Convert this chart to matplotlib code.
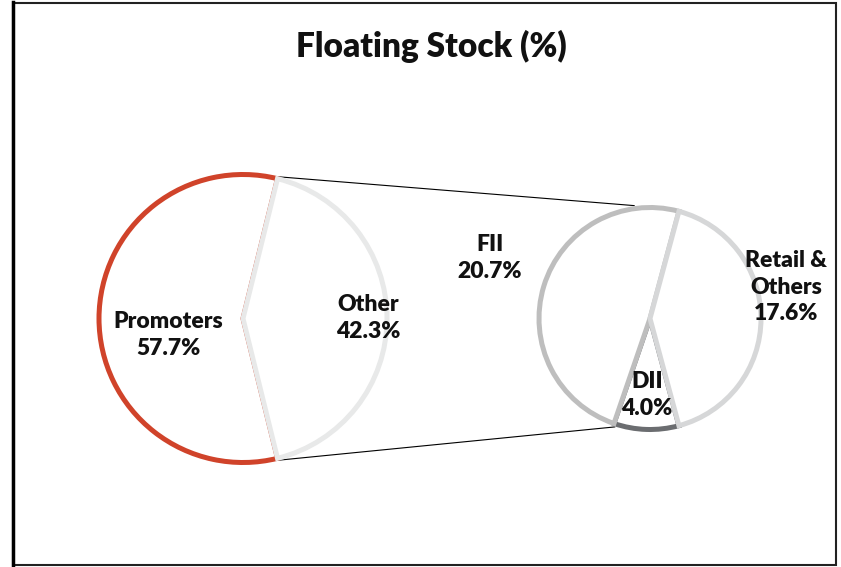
import numpy as np
import matplotlib
matplotlib.use('Agg')
import matplotlib.pyplot as plt
from matplotlib.lines import Line2D
from matplotlib.patches import Rectangle

plt.rcParams['font.family'] = ['Lato', 'DejaVu Sans']

# main pie
main_labels = ['Promoters', 'Other']
main_values = [57.7, 42.3]
main_colors = ['#D0432A', '#E8E9E9']

# secondary pie (split of "Other")
sub_labels = ['FII', 'DII', 'Retail &\nOthers']
sub_values = [20.7, 4.0, 17.6]
sub_colors = ['#BEBEBE', '#6B6D70', '#D6D7D8']

W, H = 841, 567
fig = plt.figure(figsize=(W / 100, H / 100), dpi=100)
ax = fig.add_axes([0, 0, 1, 1])

# pixel-like coords, y up
c1, r1 = (243, H - 318.5), 144
c2, r2 = (650, H - 318.5), 111
lw = 3.6

start1 = main_values[1] / 100 * 360 / 2
w1, _ = ax.pie(main_values, center=c1, radius=r1, startangle=start1,
               counterclock=True, frame=True)
for w, c in zip(w1, main_colors):
    w.set_facecolor('white')
    w.set_edgecolor(c)
    w.set_linewidth(lw)
    w.set_joinstyle('miter')
    w.set_zorder(3)

start2 = sub_values[2] / sum(sub_values) * 360 / 2
w2, _ = ax.pie(sub_values, center=c2, radius=r2, startangle=start2,
               counterclock=True, frame=True)
for i, (w, c) in enumerate(zip(w2, sub_colors)):
    w.set_facecolor('white')
    w.set_edgecolor(c)
    w.set_linewidth(lw)
    w.set_joinstyle('miter')
    w.set_zorder(2 if i == 1 else 3)

# connector lines from "Other" wedge to the secondary pie
def pt(c, r, a):
    a = np.deg2rad(a)
    return c[0] + r * np.cos(a), c[1] + r * np.sin(a)

for a1, a2 in [(start1, 98), (-start1, -108)]:
    p1 = pt(c1, r1 + 2, a1)
    p2 = pt(c2, r2 + 3, a2)
    ax.add_line(Line2D([p1[0], p2[0]], [p1[1], p2[1]], color='black', lw=0.8, zorder=1))

# data labels
main_pos = [(168, 335), (368, 318)]
sub_pos = [(490, 258), (647, 395), (786, 287)]
for lab, v, (x, y) in zip(main_labels + sub_labels, main_values + sub_values, main_pos + sub_pos):
    ax.text(x, H - y, f'{lab}\n{v:.1f}%', ha='center', va='center', fontsize=16.5,
            fontweight='heavy', color='#111111', linespacing=1.3, zorder=5)

ax.text(431, H - 46, 'Floating Stock (%)', ha='center', va='center', fontsize=24,
        fontweight='heavy', color='#111111')

# chart border
ax.add_patch(Rectangle((13, H - 565), 823, 562, fill=False, ec='#222222', lw=1.5, zorder=6))
ax.add_line(Line2D([13.5, 13.5], [H - 566, H - 2], color='black', lw=2.5, zorder=6))

ax.set_xlim(0, W)
ax.set_ylim(0, H)
ax.set_aspect('equal')
ax.axis('off')

fig.savefig('out.png', dpi=100)
